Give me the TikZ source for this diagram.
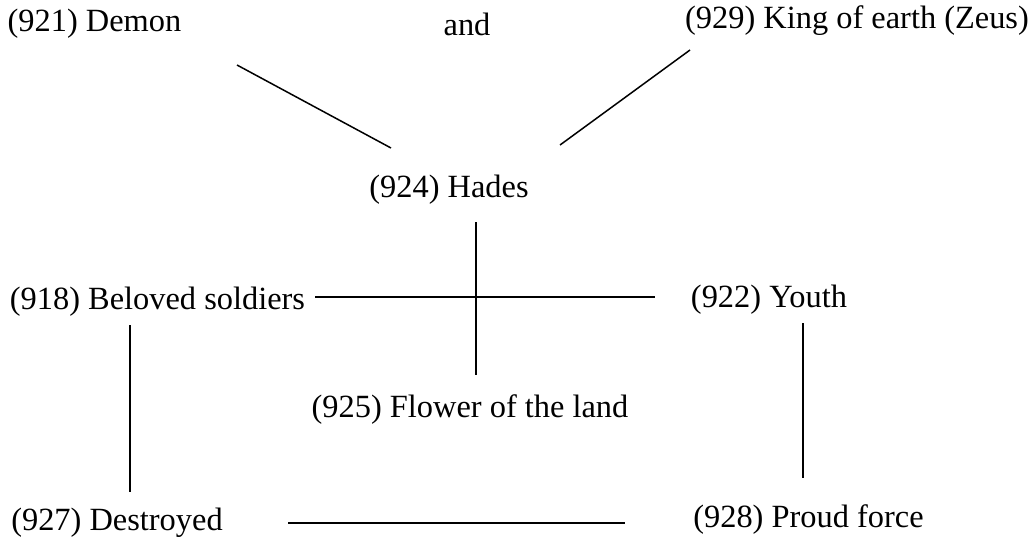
\documentclass[tikz,border=0pt]{standalone}
\usepackage{fontspec}
\setmainfont{Liberation Serif}
\begin{document}
\begin{tikzpicture}[x=0.5pt,y=-0.5pt,
  lbl/.style={inner sep=0pt,font=\fontsize{16.2}{19}\selectfont},
  conn/.style={line width=0.75pt}]
\useasboundingbox (0,0) rectangle (1031,543);
\node[lbl] (demon) at (94.5,24) {(921) Demon};
\node[lbl] (and) at (467,24) {and};
\node[lbl] (zeus) at (857,21) {(929) King of earth (Zeus)};
\node[lbl] (hades) at (449,190) {(924) Hades};
\node[lbl] (beloved) at (157.5,302) {(918) Beloved soldiers};
\node[lbl] (youth) at (769,300) {(922) Youth};
\node[lbl] (flower) at (470,410) {(925) Flower of the land};
\node[lbl] (destroyed) at (117,523) {(927) Destroyed};
\node[lbl] (proud) at (808.5,520) {(928) Proud force};
\draw[conn] ([shift={(142.5,41)}]demon.center) -- ([shift={(-58,-42)}]hades.center);
\draw[conn] ([shift={(-167,29)}]zeus.center) -- ([shift={(111,-45)}]hades.center);
\draw[conn] ([shift={(27,32)}]hades.center) -- ([shift={(6,-35)}]flower.center);
\draw[conn] ([shift={(157.5,-5)}]beloved.center) -- ([shift={(-114,-3)}]youth.center);
\draw[conn] ([shift={(-27.5,23)}]beloved.center) -- ([shift={(13,-31)}]destroyed.center);
\draw[conn] ([shift={(34,23)}]youth.center) -- ([shift={(-5.5,-42)}]proud.center);
\draw[conn] ([shift={(171,0)}]destroyed.center) -- ([shift={(-183.5,3)}]proud.center);
\end{tikzpicture}
\end{document}
